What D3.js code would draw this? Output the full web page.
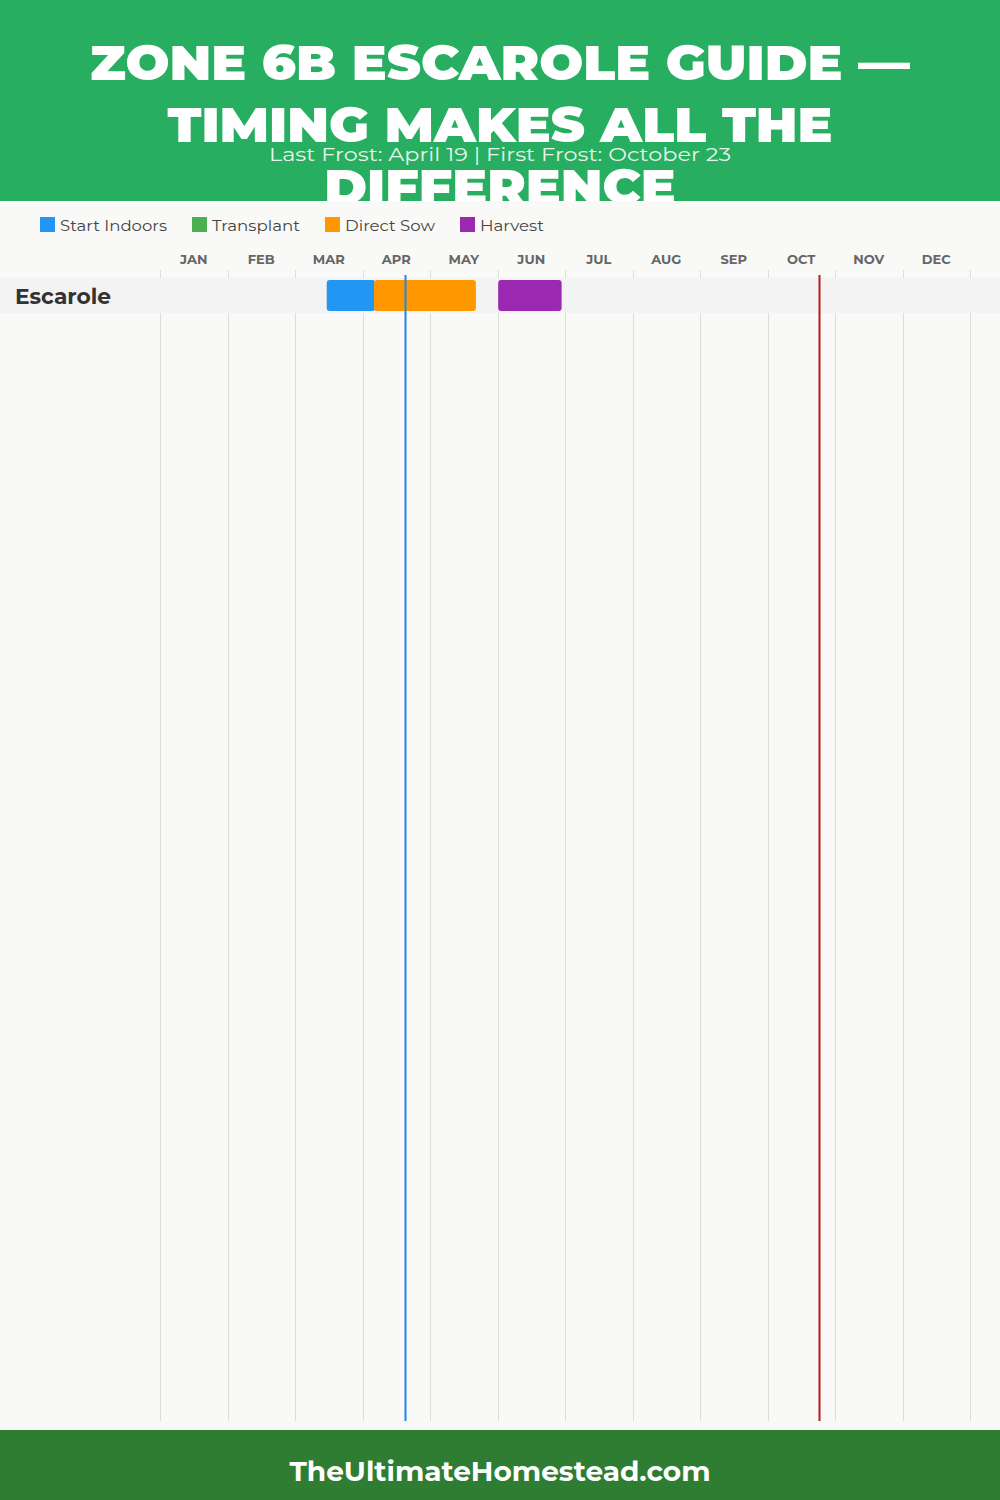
<!DOCTYPE html>
<html>
<head>
<meta charset="utf-8">
<script src="https://cdn.jsdelivr.net/npm/d3@7"></script>
<style>
  html, body { margin: 0; padding: 0; background: #f9f9f7; }
  svg { display: block; }
</style>
</head>
<body>
<div id="chart"></div>
<script>
// ---- data ----
const titleLines = ["ZONE 6B ESCAROLE GUIDE —", "TIMING MAKES ALL THE", "DIFFERENCE"];
const subtitle = "Last Frost: April 19 | First Frost: October 23";
const footerText = "TheUltimateHomestead.com";
const months = ["JAN","FEB","MAR","APR","MAY","JUN","JUL","AUG","SEP","OCT","NOV","DEC"];
const legendLabels = ["Start Indoors", "Transplant", "Direct Sow", "Harvest"];
const legendColors = ["#2196f3", "#4caf50", "#ff9800", "#9c27b0"];
const crops = ["Escarole"];
// periods in month units (0 = Jan 1, 12 = Dec 31)
const periodCrop  = ["Escarole", "Escarole", "Escarole"];
const periodType  = ["Start Indoors", "Direct Sow", "Harvest"];
const periodStart = [2.47, 3.17, 5.01];
const periodEnd   = [3.19, 4.68, 5.95];
// frost dates: [month (1-12), day]
const lastFrost = [4, 19];
const firstFrost = [10, 23];

// ---- drawing ----
const W = 1000, H = 1500;
const svg = d3.select("#chart").append("svg").attr("width", W).attr("height", H);
const font = "Montserrat, 'DejaVu Sans', Inter, sans-serif";

// header
svg.append("rect").attr("x",0).attr("y",0).attr("width",W).attr("height",201).attr("fill","#27ae60");
const titleG = svg.append("g");
titleLines.forEach((t,i) => {
  titleG.append("text")
    .attr("x", W/2).attr("y", 80 + i*62)
    .attr("text-anchor","middle")
    .attr("font-family", font).attr("font-weight", 900).attr("font-size", 48)
    .attr("fill","#ffffff").text(t);
});
// scale title lines uniformly so the first line matches the reference width
(function(){
  const nodes = titleG.selectAll("text").nodes();
  const k = 820 / nodes[0].getComputedTextLength();
  nodes.forEach(n => {
    const w = n.getComputedTextLength();
    n.setAttribute("textLength", w * k);
    n.setAttribute("lengthAdjust", "spacingAndGlyphs");
  });
})();

// chart background (covers overflow of title)
svg.append("rect").attr("x",0).attr("y",201).attr("width",W).attr("height",1229).attr("fill","#f9f9f7");

// subtitle
svg.append("text").attr("x", W/2).attr("y", 161).attr("text-anchor","middle")
  .attr("font-family", font).attr("font-size", 19).attr("fill","#e6f4ea").text(subtitle)
  .attr("textLength", 462).attr("lengthAdjust","spacingAndGlyphs");

// legend
const legendX = [40, 192, 325, 460];
const legendW = [107, 88, 90, 64];
const lg = svg.append("g");
legendLabels.forEach((l,i) => {
  lg.append("rect").attr("x", legendX[i]).attr("y", 217).attr("width",15).attr("height",15).attr("fill", legendColors[i]);
  lg.append("text").attr("x", legendX[i]+20).attr("y", 231)
    .attr("font-family", font).attr("font-size", 15).attr("fill","#444").text(l)
    .attr("textLength", legendW[i]).attr("lengthAdjust","spacingAndGlyphs");
});

// scales
const x = d3.scaleLinear().domain([0,12]).range([160,970]);
const y = d3.scaleBand().domain(crops).range([278, 313]);
const dateToM = d => (d[0]-1) + d[1]/30;

// month labels
svg.append("g").selectAll("text").data(months).join("text")
  .attr("x", (d,i) => x(i+0.5)).attr("y", 264)
  .attr("text-anchor","middle")
  .attr("font-family", font).attr("font-weight", 700).attr("font-size", 13)
  .attr("fill","#666").text(d => d);

// grid lines
svg.append("g").selectAll("line").data(d3.range(13)).join("line")
  .attr("x1", d => Math.round(x(d))+0.5).attr("x2", d => Math.round(x(d))+0.5)
  .attr("y1", 270).attr("y2", 1421)
  .attr("stroke","#dddddd").attr("stroke-width",1);

// row bands
svg.append("g").selectAll("rect").data(crops).join("rect")
  .attr("x",0).attr("width",W).attr("y", d => y(d)).attr("height", y.bandwidth())
  .attr("fill","#f3f3f3");

// crop labels
svg.append("g").selectAll("text").data(crops).join("text")
  .attr("x", 15).attr("y", d => y(d) + y.bandwidth()/2 + 8.5)
  .attr("font-family", font).attr("font-weight", 700).attr("font-size", 21.5)
  .attr("fill","#333").text(d => d)
  .attr("textLength", 96).attr("lengthAdjust","spacingAndGlyphs");

// bars
const periods = periodCrop.map((c,i) => ({crop:c, type:periodType[i], s:periodStart[i], e:periodEnd[i]}));
svg.append("g").selectAll("rect").data(periods).join("rect")
  .attr("x", d => x(d.s)).attr("width", d => x(d.e)-x(d.s))
  .attr("y", d => y(d.crop)+2).attr("height", y.bandwidth()-4)
  .attr("rx", 3).attr("ry", 3)
  .attr("fill", d => legendColors[legendLabels.indexOf(d.type)]);

// frost lines
const lf = Math.round(x(dateToM(lastFrost))) + 0.5;
const ff = Math.round(x(dateToM(firstFrost))) + 0.5;
svg.append("line").attr("x1", lf).attr("x2", lf)
  .attr("y1", 275).attr("y2", 1421).attr("stroke","#1e88e5").attr("stroke-width",2);
svg.append("line").attr("x1", ff).attr("x2", ff)
  .attr("y1", 275).attr("y2", 1421).attr("stroke","#b71c1c").attr("stroke-width",2);

// footer
svg.append("rect").attr("x",0).attr("y",1430).attr("width",W).attr("height",70).attr("fill","#2e7d32");
svg.append("text").attr("x", W/2).attr("y", 1481).attr("text-anchor","middle")
  .attr("font-family", font).attr("font-weight", 700).attr("font-size", 28)
  .attr("fill","#ffffff").text(footerText)
  .attr("textLength", 421).attr("lengthAdjust","spacingAndGlyphs");
</script>
</body>
</html>
